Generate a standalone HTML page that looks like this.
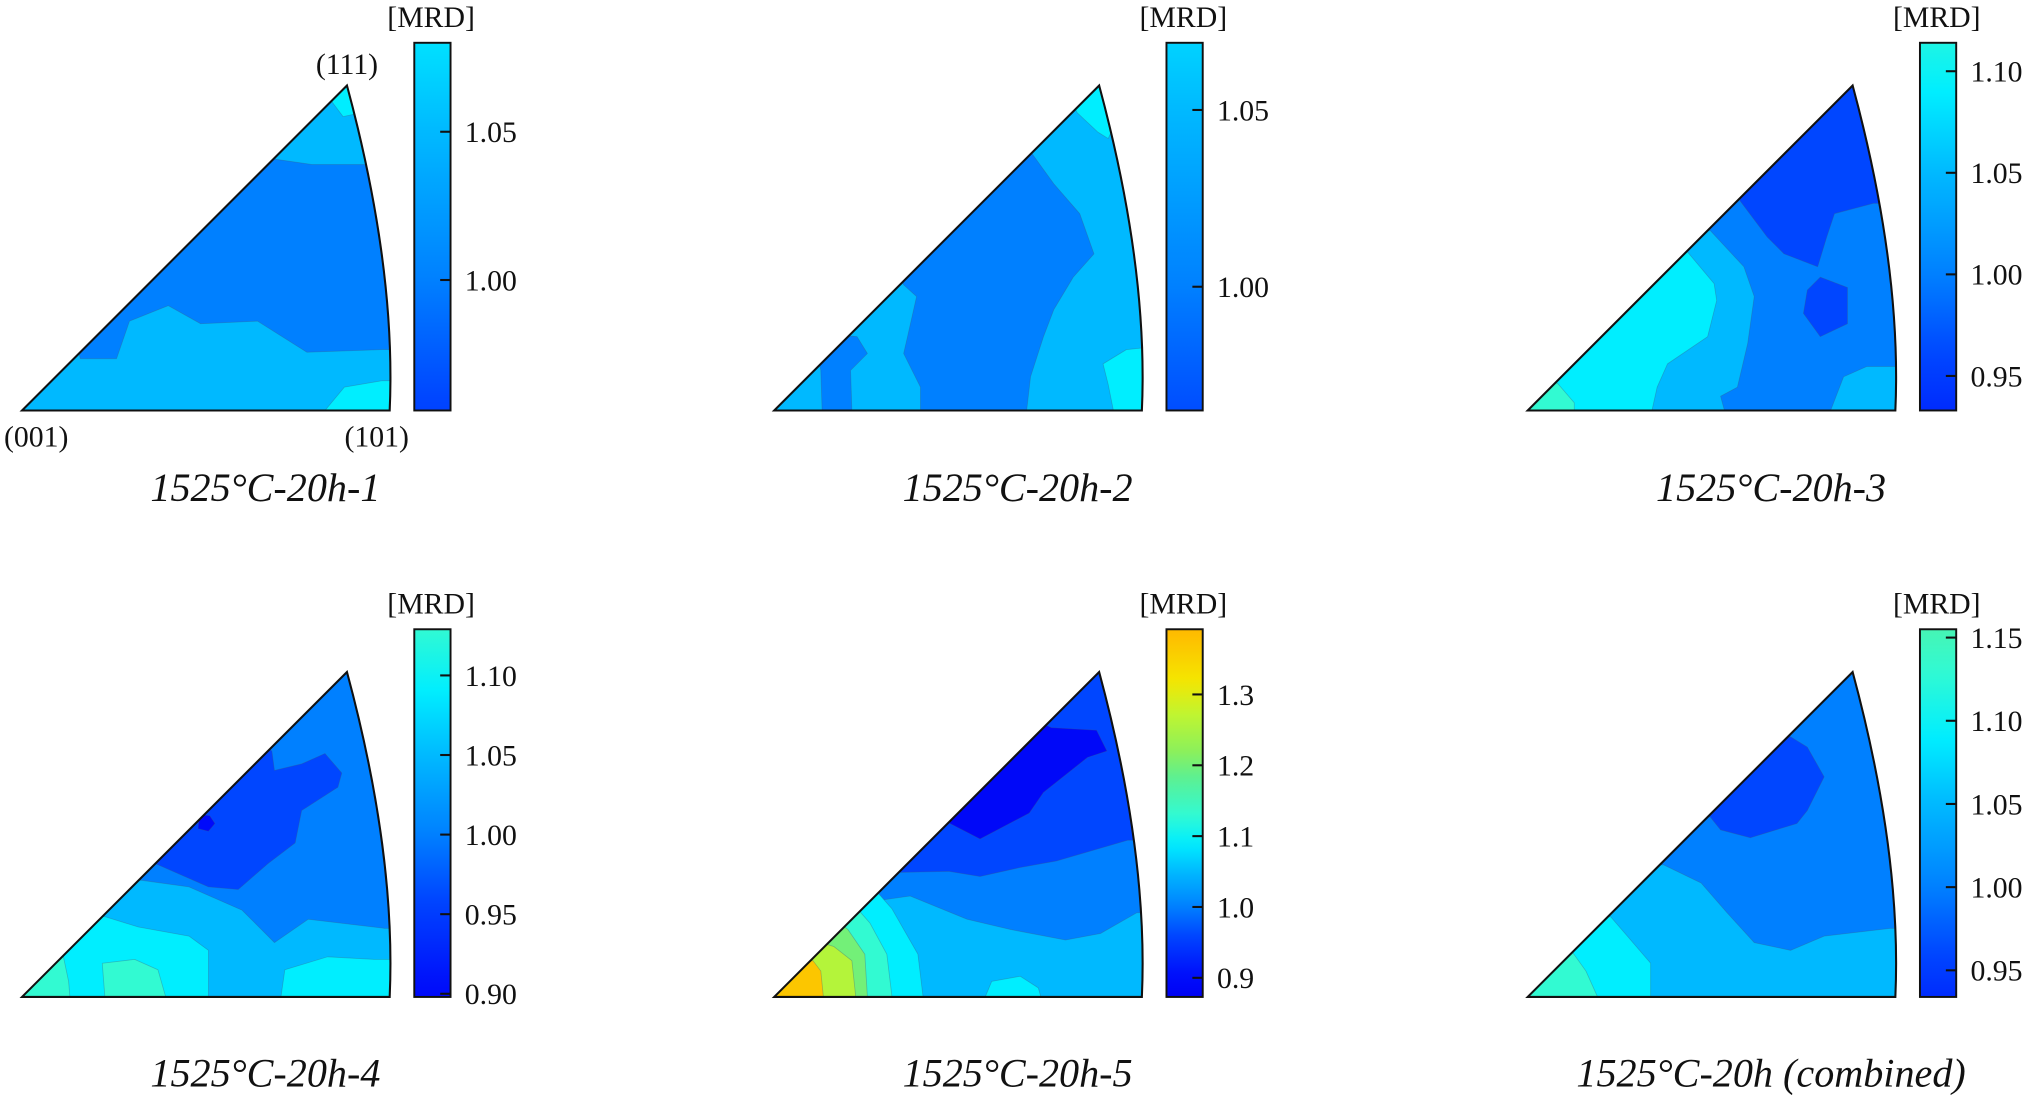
<!DOCTYPE html>
<html><head><meta charset="utf-8"><style>
html,body{margin:0;padding:0;background:#fff;}
svg{display:block;font-family:"Liberation Serif",serif;}
</style></head><body>
<svg id="fig" width="2030" height="1098" viewBox="0 0 1568 848" xmlns="http://www.w3.org/2000/svg"></svg>
<script>
// colormap stops
const cmapValues=[0.86,0.9,0.96,1.0,1.05,1.09,1.13,1.18,1.22,1.27,1.32,1.39];
const cmapColors=[[0,0,240],[0,10,250],[0,70,255],[0,128,255],[0,185,255],[0,238,255],[50,250,210],[90,240,150],[140,240,90],[190,245,50],[245,230,0],[255,185,0]];
// panel titles
const panelTitles=["1525°C-20h-1","1525°C-20h-2","1525°C-20h-3","1525°C-20h-4","1525°C-20h-5","1525°C-20h (combined)"];
const barMin=[0.956,0.965,0.933,0.898,0.873,0.934];
const barMax=[1.080,1.069,1.114,1.129,1.392,1.155];
const tickValues=[[1.00,1.05],[1.00,1.05],[0.95,1.00,1.05,1.10],[0.90,0.95,1.00,1.05,1.10],[0.9,1.0,1.1,1.2,1.3],[0.95,1.00,1.05,1.10,1.15]];
const tickLabels=[["1.00","1.05"],["1.00","1.05"],["0.95","1.00","1.05","1.10"],["0.90","0.95","1.00","1.05","1.10"],["0.9","1.0","1.1","1.2","1.3"],["0.95","1.00","1.05","1.10","1.15"]];
const baseValues=[1.05,1.05,1.0,1.0,1.05,1.0];
const regionValues=[
 [1.0,1.09,1.09],
 [1.0,1.0,1.09,1.09],
 [1.05,1.09,1.13,0.96,0.96,1.05],
 [1.05,0.96,1.09,1.13,1.13,1.09,0.9],
 [1.0,0.96,0.89,1.09,1.13,1.2,1.26,1.37,1.09],
 [1.05,1.09,1.13,0.96]
];
const regionShapes=[
 [[[45,40],[73,40],[83,69],[113,81],[138,67],[182,69],[220,45],[278,47],[300,47],[300,190],[258,190],[224,190],[196,194],[150,250],[0,250]],
  [[239,239],[248,227],[262,230],[270,260],[230,260]],
  [[234,0],[300,0],[300,23],[278,23],[249,18]]],
 [[[113,0],[195,0],[198,26],[208,57],[216,78],[231,103],[247,121],[236,152],[216,175],[198,200],[150,250],[80,150],[100,97],[110,88],[103,57],[100,44],[113,18]],
  [[37,0],[60,0],[59,31],[72,44],[64,57],[30,60],[36,31]],
  [[234,230],[250,215],[258,210],[280,260],[220,260]],
  [[262,0],[300,0],[300,50],[272,47],[254,36],[258,20]]],
 [[[0,0],[152,0],[149,11],[162,18],[170,52],[175,88],[167,111],[141,139],[0,145]],
  [[0,0],[96,0],[100,18],[108,36],[139,57],[146,85],[144,98],[123,123],[0,130]],
  [[0,0],[36,0],[36,6],[23,21],[0,25]],
  [[164,162],[185,134],[198,121],[224,111],[231,134],[237,152],[267,160],[300,160],[300,300],[150,300]],
  [[226,103],[247,95],[247,67],[226,57],[213,75],[216,93]],
  [[234,0],[300,0],[300,34],[262,34],[244,26]]],
 [[[0,0],[300,0],[300,53],[280,53],[221,60],[195,42],[170,67],[129,85],[93,90],[0,95]],
  [[103,103],[144,85],[167,83],[190,103],[211,119],[216,144],[244,162],[247,173],[234,188],[216,180],[195,175],[193,190],[100,250],[60,150]],
  [[0,0],[144,0],[144,36],[129,47],[90,54],[64,62],[0,65]],
  [[0,0],[37,0],[36,12],[32,31],[0,35]],
  [[64,0],[111,0],[105,21],[87,29],[62,26]],
  [[200,0],[300,0],[300,29],[272,29],[236,31],[203,21]],
  [[137,141],[145,140],[149,134],[144,128],[136,130]]],
 [[[70,73],[105,78],[149,60],[183,52],[225,44],[252,49],[280,65],[300,65],[300,300],[0,300]],
  [[90,96],[135,97],[159,93],[190,100],[218,105],[273,121],[300,121],[300,300],[0,300]],
  [[130,137],[159,122],[197,142],[208,158],[242,185],[257,190],[249,206],[214,208],[200,215],[130,215]],
  [[0,0],[115,0],[111,33],[91,68],[77,84],[60,100],[0,100]],
  [[0,0],[91,0],[87,33],[74,57],[60,73],[0,73]],
  [[0,0],[72,0],[70,33],[57,52],[45,62],[0,62]],
  [[0,0],[63,0],[60,28],[46,39],[30,44],[0,44]],
  [[0,0],[38,0],[36,20],[30,28],[0,28]],
  [[163,0],[168,12],[190,16],[204,7],[206,0]]],
 [[[0,0],[300,0],[300,53],[280,53],[229,47],[203,36],[175,42],[154,65],[134,88],[105,102],[0,105]],
  [[0,0],[95,0],[95,26],[77,47],[64,62],[0,65]],
  [[0,0],[54,0],[45,20],[35,34],[0,40]],
  [[141,139],[149,129],[172,123],[208,134],[216,144],[229,170],[216,193],[203,201],[150,260],[100,150]]]
];
const NS="http://www.w3.org/2000/svg";
const svg=document.getElementById('fig');
function cmap(v){
  if(v<=cmapValues[0])return cmapColors[0];
  for(let i=1;i<cmapValues.length;i++){
    if(v<=cmapValues[i]){const t=(v-cmapValues[i-1])/(cmapValues[i]-cmapValues[i-1]);
      return cmapColors[i-1].map((c,k)=>Math.round(c+(cmapColors[i][k]-c)*t));}
  }
  return cmapColors[cmapColors.length-1];
}
function rgb(v){const c=cmap(v);return `rgb(${c[0]},${c[1]},${c[2]})`;}
function mk(tag,attrs,parent){const e=document.createElementNS(NS,tag);for(const k in attrs)e.setAttribute(k,attrs[k]);(parent||svg).appendChild(e);return e;}
const defs=mk('defs',{});
const panelX=[17,598,1180,17,598,1180];
const panelY=[317,317,317,770,770,770];
const W=284,Hh=251;
for(let p=0;p<6;p++){
  const x0=panelX[p],y0=panelY[p];
  const tri=`M${x0},${y0} L${x0+251},${y0-Hh} Q${x0+289},${y0-110} ${x0+W},${y0} Z`;
  const cp=mk('clipPath',{id:'clip'+p},defs);mk('path',{d:tri},cp);
  const g=mk('g',{'clip-path':`url(#clip${p})`});
  
  
  const bg=mk('path',{d:tri,fill:rgb(baseValues[p])},g);
  
  
  regionShapes[p].forEach((poly,i)=>{
    const pts=poly.map(q=>`${x0+q[0]},${y0-q[1]}`).join(' ');
    const e=mk('polygon',{points:pts,fill:rgb(regionValues[p][i]),stroke:'rgba(60,90,120,0.35)','stroke-width':0.6,'stroke-linejoin':'round'},g);
    
    
  });
  const ol=mk('path',{d:tri,fill:'none',stroke:'#111','stroke-width':1.6});
  
  
  const bx=x0+303,by0=y0-284,bh=284,bw=28;
  const gid='grad'+p;const lg=mk('linearGradient',{id:gid,x1:0,y1:1,x2:0,y2:0},defs);
  for(let s=0;s<=30;s++){const v=barMin[p]+(barMax[p]-barMin[p])*s/30;mk('stop',{offset:s/30,'stop-color':rgb(v)},lg);}
  const bar=mk('rect',{x:bx,y:by0,width:bw,height:bh,fill:`url(#${gid})`,stroke:'#111','stroke-width':1.5});
  
  
  const yv=v=>y0-(v-barMin[p])/(barMax[p]-barMin[p])*bh;
  tickValues[p].forEach((v,i)=>{
    const yy=yv(v);
    const tl=mk('line',{x1:bx+bw-8,x2:bx+bw,y1:yy,y2:yy,stroke:'#111','stroke-width':1.6});
    
    
    const t=mk('text',{x:bx+bw+11,y:yy+8,'font-size':23,fill:'#111'});t.textContent=tickLabels[p][i];
    
    
  });
  const mrd=mk('text',{x:bx+13,y:by0-12,'font-size':23,'text-anchor':'middle',fill:'#111'});mrd.textContent='[MRD]';
  
  
  const ty=p<3?y0+70:y0+69;
  const tt=mk('text',{x:x0+188,y:ty,'font-size':31,'font-style':'italic','text-anchor':'middle',fill:'#111'});tt.textContent=panelTitles[p];
  
  
}
[['(111)',268,57],['(001)',28,345],['(101)',291,345]].forEach(a=>{
  const t=mk('text',{x:a[1],y:a[2],'font-size':23,'text-anchor':'middle',fill:'#111'});t.textContent=a[0];
  
  
});
</script>
</body></html>
